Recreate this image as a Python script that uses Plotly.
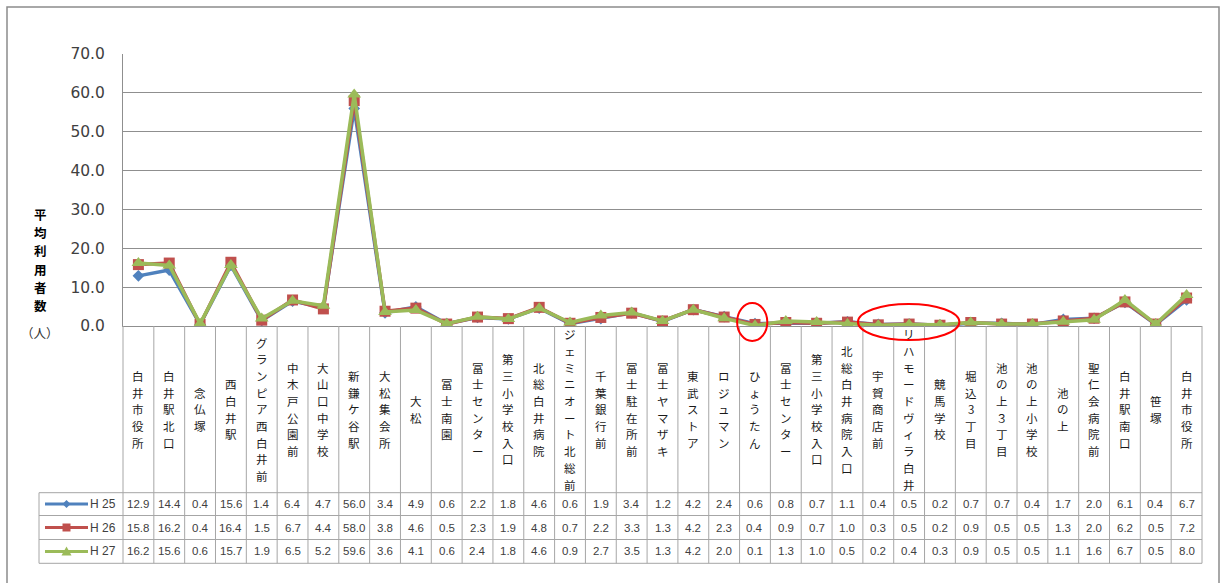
import plotly.graph_objects as go

# ---------------- data ----------------
categories = ["白井市役所", "白井駅北口", "念仏塚", "西白井駅", "グランピア西白井前", "中木戸公園前",
              "大山口中学校", "新鎌ケ谷駅", "大松集会所", "大松", "冨士南園", "冨士センター",
              "第三小学校入口", "北総白井病院", "ジェミニオート北総前", "千葉銀行前", "冨士駐在所前",
              "冨士ヤマザキ", "東武ストア", "ロジュマン", "ひょうたん", "冨士センター", "第三小学校入口",
              "北総白井病院入口", "宇賀商店前", "リハモードヴィラ白井", "競馬学校", "堀込3丁目",
              "池の上３丁目", "池の上小学校", "池の上", "聖仁会病院前", "白井駅南口", "笹塚", "白井市役所"]
h25 = [12.9, 14.4, 0.4, 15.6, 1.4, 6.4, 4.7, 56.0, 3.4, 4.9, 0.6, 2.2, 1.8, 4.6, 0.6, 1.9, 3.4, 1.2,
       4.2, 2.4, 0.6, 0.8, 0.7, 1.1, 0.4, 0.5, 0.2, 0.7, 0.7, 0.4, 1.7, 2.0, 6.1, 0.4, 6.7]
h26 = [15.8, 16.2, 0.4, 16.4, 1.5, 6.7, 4.4, 58.0, 3.8, 4.6, 0.5, 2.3, 1.9, 4.8, 0.7, 2.2, 3.3, 1.3,
       4.2, 2.3, 0.4, 0.9, 0.7, 1.0, 0.3, 0.5, 0.2, 0.9, 0.5, 0.5, 1.3, 2.0, 6.2, 0.5, 7.2]
h27 = [16.2, 15.6, 0.6, 15.7, 1.9, 6.5, 5.2, 59.6, 3.6, 4.1, 0.6, 2.4, 1.8, 4.6, 0.9, 2.7, 3.5, 1.3,
       4.2, 2.0, 0.1, 1.3, 1.0, 0.5, 0.2, 0.4, 0.3, 0.9, 0.5, 0.5, 1.1, 1.6, 6.7, 0.5, 8.0]
series_names = ["H 25", "H 26", "H 27"]
y_title = "平均利用者数"
y_unit = "（人）"
highlight_single = "ひょうたん"
highlight_group = ["宇賀商店前", "リハモードヴィラ白井", "競馬学校"]

# ---------------- layout geometry (pixels) ----------------
W, H = 1221, 583
L, R, T, B = 123, 19, 54, 257
PW, PH = W - L - R, H - T - B
n = len(categories)


def px_x(px):
    return (px - L) / PW


def px_y(py):
    return (H - B - py) / PH


colors = ["#4F81BD", "#C0504D", "#9BBB59"]
symbols = ["diamond", "square", "triangle-up"]
msizes = [9, 11, 12]
grid_col = "#8f8f8f"
tbl_col = "#a6a6a6"

fig = go.Figure()
x_idx = list(range(n))
for name, vals, c, s, ms in zip(series_names, [h25, h26, h27], colors, symbols, msizes):
    fig.add_trace(go.Scatter(x=x_idx, y=vals, name=name, mode="lines+markers",
                             line=dict(color=c, width=3.5),
                             marker=dict(symbol=s, size=ms, color=c, line=dict(width=0)),
                             showlegend=False, hoverinfo="skip"))

shapes = []
annotations = []

# table geometry
lab_top_px, tbl_top_px = 326, 492.7
row_px = [492.7, 515.5, 539.5, 563.3]
row_edges = [px_y(p) for p in row_px]
row_cent = [(row_edges[i] + row_edges[i + 1]) / 2 for i in range(3)]
tbl_left = px_x(39)

# vertical lines through label area and table
for i in range(n + 1):
    shapes.append(dict(type="line", xref="paper", yref="paper", x0=i / n, x1=i / n,
                       y0=px_y(lab_top_px), y1=row_edges[-1], line=dict(color=tbl_col, width=1)))
# legend column left border
shapes.append(dict(type="line", xref="paper", yref="paper", x0=tbl_left, x1=tbl_left,
                   y0=row_edges[0], y1=row_edges[-1], line=dict(color=tbl_col, width=1)))
# horizontal table lines
for ry in row_edges:
    shapes.append(dict(type="line", xref="paper", yref="paper", x0=tbl_left, x1=1,
                       y0=ry, y1=ry, line=dict(color=tbl_col, width=1)))

# category labels: stacked vertical characters
lab_mid_px = (lab_top_px + tbl_top_px) / 2
step = 16.7
for i, c in enumerate(categories):
    chars = list(c)
    k = len(chars)
    for j, ch in enumerate(chars):
        py = lab_mid_px + (j - (k - 1) / 2) * step
        annotations.append(dict(xref="x", yref="paper", x=i, y=px_y(py), text=ch,
                                showarrow=False, xanchor="center", yanchor="middle",
                                font=dict(family="Noto Sans CJK JP", size=11.5, color="#1a1a1a")))

# table values
for r, vals in enumerate([h25, h26, h27]):
    for i, v in enumerate(vals):
        annotations.append(dict(xref="x", yref="paper", x=i, y=row_cent[r], text=f"{v:.1f}",
                                showarrow=False, xanchor="center", yanchor="middle",
                                font=dict(family="Liberation Sans Narrow, Liberation Sans", size=11.5,
                                          color="#404040")))

# legend keys in table
key_x0, key_x1, key_mid = px_x(45), px_x(88), px_x(66.5)
for r, (name, c) in enumerate(zip(series_names, colors)):
    yy = row_cent[r]
    shapes.append(dict(type="line", xref="paper", yref="paper", x0=key_x0, x1=key_x1, y0=yy, y1=yy,
                       line=dict(color=c, width=3)))
    if r == 0:
        path = "M 0,-4 L 4,0 L 0,4 L -4,0 Z"
    elif r == 1:
        path = "M -4,-4 L 4,-4 L 4,4 L -4,4 Z"
    else:
        path = "M -5,-4 L 5,-4 L 0,5 Z"
    shapes.append(dict(type="path", xref="paper", yref="paper", xsizemode="pixel", ysizemode="pixel",
                       xanchor=key_mid, yanchor=yy, path=path, fillcolor=c, line=dict(width=0)))
    annotations.append(dict(xref="paper", yref="paper", x=px_x(118), y=yy, text=name, showarrow=False,
                            xanchor="right", yanchor="middle",
                            font=dict(family="Liberation Sans", size=12, color="#404040")))

# y-axis title (stacked vertical characters) and unit
tchars = list(y_title)
tstep = 18.2
for j, ch in enumerate(tchars):
    py = 260 + (j - (len(tchars) - 1) / 2) * tstep
    annotations.append(dict(xref="paper", yref="paper", x=px_x(40), y=px_y(py), text=ch,
                            showarrow=False, xanchor="center", yanchor="middle",
                            font=dict(family="Noto Sans CJK JP", size=12.5, color="#000000", weight="bold")))
annotations.append(dict(xref="paper", yref="paper", x=px_x(40), y=px_y(332), text=y_unit,
                        showarrow=False, xanchor="center", yanchor="middle",
                        font=dict(family="Noto Sans CJK JP", size=12.5, color="#333333")))

# red highlight ellipses
hi = categories.index(highlight_single)
shapes.append(dict(type="circle", xref="x", yref="paper", x0=hi - 0.58, x1=hi + 0.40,
                   y0=px_y(341), y1=px_y(303), line=dict(color="#FF0000", width=2)))
g0 = categories.index(highlight_group[0])
g1 = categories.index(highlight_group[-1])
shapes.append(dict(type="circle", xref="x", yref="paper", x0=g0 - 0.66, x1=g1 + 0.63,
                   y0=px_y(340), y1=px_y(304), line=dict(color="#FF0000", width=2)))

# outer frame
shapes.append(dict(type="path", xref="paper", yref="paper",
                   path=f"M {px_x(7)},{px_y(600)} L {px_x(7)},{px_y(7)} L {px_x(1219)},{px_y(7)} L {px_x(1219)},{px_y(600)}",
                   line=dict(color="#8c8c8c", width=1.5)))

fig.update_layout(
    width=W, height=H,
    margin=dict(l=L, r=R, t=T, b=B, pad=0),
    paper_bgcolor="white", plot_bgcolor="white",
    shapes=shapes, annotations=annotations,
    xaxis=dict(range=[-0.5, n - 0.5], showticklabels=False, showgrid=False, zeroline=False,
               showline=True, linecolor=grid_col, linewidth=1, ticks=""),
    yaxis=dict(range=[0, 70], dtick=10, tickformat=".1f", showgrid=True, gridcolor=grid_col, gridwidth=1,
               zeroline=False, showline=True, linecolor=grid_col, linewidth=1, ticks="",
               ticklabelstandoff=14,
               tickfont=dict(family="DejaVu Sans", size=15.5, color="#404040")),
)

fig.write_html("out.html", config={"displayModeBar": False},
               post_script="document.body.style.margin='0px';")
